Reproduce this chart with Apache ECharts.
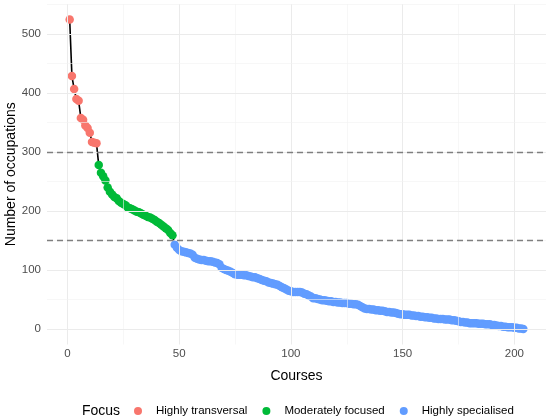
<!DOCTYPE html>
<html>
 <head>
  <title>Occupations per course</title>
  <script src="https://cdn.jsdelivr.net/npm/echarts@6/dist/echarts.min.js"></script>
  <style>
    html, body, #container {
    width: 100%;
    height: 100%;
    margin: 0;
    padding: 0;
    background: #fff;
    }
  </style>
 </head>
  <body>
    <div id="container"></div>
    <script>
// number of occupations per course, sorted, split by focus group
var highlyTransversal = [525, 429, 407, 390, 387, 358, 355, 345, 341, 333, 317, 316, 315];
var moderatelyFocused = [278, 265, 259, 252, 240, 233, 228, 224, 222, 217, 214, 212, 210, 206, 205, 203, 201,
  199, 198, 196, 194, 192, 190, 189, 187, 185, 182, 180, 177, 174, 171, 168, 163, 159];
var highlySpecialised = [143, 138, 134, 132, 131, 130, 129, 128, 126, 121, 119, 118, 117, 117, 116, 115, 115,
  114, 113, 112, 110, 104, 102, 100, 99, 97, 95, 93, 92, 92, 92, 91, 91, 90, 89, 88, 88, 86, 85, 83, 82, 81,
  79, 78, 77, 76, 75, 73, 71, 69, 67, 65, 64, 63, 63, 63, 63, 62, 60, 59, 57, 55, 52, 52, 51, 50, 49, 49, 48,
  47, 47, 46, 46, 45, 45, 44, 44, 44, 43, 43, 42, 42, 41, 39, 37, 35, 34, 34, 33, 33, 32, 32, 31, 31, 30, 29,
  29, 28, 28, 27, 26, 25, 25, 24, 24, 24, 23, 23, 22, 22, 21, 21, 20, 20, 19, 19, 18, 18, 17, 17, 17, 16, 16,
  16, 15, 15, 14, 13, 12, 12, 11, 11, 10, 10, 10, 10, 9, 9, 9, 8, 8, 8, 7, 7, 6, 5, 5, 4, 4, 3, 3, 3, 2, 2,
  1, 1, 0];
var groupNames = ['Highly transversal', 'Moderately focused', 'Highly specialised'];
var groupColors = ['#F8766D', '#00BA38', '#619CFF'];
var thresholds = [150, 300];
var xMajor = [0, 50, 100, 150, 200];
var xMinor = [25, 75, 125, 175];
var yMajor = [0, 100, 200, 300, 400, 500];
var yMinor = [50, 150, 250, 350, 450, 550];

// rank the courses 1..n across the three groups
var groups = [highlyTransversal, moderatelyFocused, highlySpecialised];
var allPoints = [];
var groupPoints = [];
var rank = 1;
groups.forEach(function (g) {
  var pts = [];
  g.forEach(function (v) {
    pts.push([rank, v]);
    allPoints.push([rank, v]);
    rank++;
  });
  groupPoints.push(pts);
});
var n = allPoints.length;
var xMin = 1 - 0.05 * (n - 1), xMax = n + 0.05 * (n - 1);
var yMin = -0.05 * 525, yMax = 525 * 1.05;

var gridLines = [];
xMajor.forEach(function (v) { gridLines.push({ xAxis: v, lineStyle: { color: '#EBEBEB', width: 1, type: 'solid' } }); });
xMinor.forEach(function (v) { gridLines.push({ xAxis: v, lineStyle: { color: '#F2F2F2', width: 0.6, type: 'solid' } }); });
yMajor.forEach(function (v) { gridLines.push({ yAxis: v, lineStyle: { color: '#EBEBEB', width: 1, type: 'solid' } }); });
yMinor.forEach(function (v) { gridLines.push({ yAxis: v, lineStyle: { color: '#F2F2F2', width: 0.6, type: 'solid' } }); });
thresholds.forEach(function (v) { gridLines.push({ yAxis: v, lineStyle: { color: '#7F7F7F', width: 1.3, type: [6, 4] } }); });

var chartDom = document.getElementById('container');
var myChart = echarts.init(chartDom);
var font = 'Liberation Sans, Arial, sans-serif';

var series = [
  {
    name: 'grid',
    type: 'line',
    data: [],
    z: 1,
    markLine: { silent: true, symbol: 'none', label: { show: false }, animation: false, data: gridLines }
  },
  {
    name: 'path',
    type: 'line',
    data: allPoints,
    showSymbol: false,
    z: 2,
    lineStyle: { color: '#000', width: 1.6 },
    itemStyle: { color: '#000' }
  }
];
groupNames.forEach(function (name, i) {
  series.push({
    name: name,
    type: 'scatter',
    data: groupPoints[i],
    symbolSize: 8.5,
    z: 3,
    itemStyle: { color: groupColors[i], opacity: 1 }
  });
});

var option = {
  animation: false,
  textStyle: { fontFamily: font },
  title: {
    text: 'Focus', left: 82, top: 399, padding: 0,
    textStyle: { fontFamily: font, fontSize: 14, fontWeight: 'normal', color: '#000' }
  },
  legend: {
    data: groupNames,
    left: 134, top: 401, padding: 0,
    icon: 'circle', itemWidth: 8, itemHeight: 8, itemGap: 15,
    textStyle: { fontFamily: font, fontSize: 11.5, color: '#000', padding: [0, 0, 0, 9] }
  },
  grid: { left: 47, right: 4, top: 4, bottom: 75.5, containLabel: false, outerBoundsMode: 'none' },
  xAxis: {
    type: 'value', min: xMin, max: xMax,
    name: 'Courses', nameLocation: 'middle', nameGap: 20, nameMoveOverlap: false,
    nameTextStyle: { fontFamily: font, fontSize: 14, color: '#000' },
    axisLine: { show: false }, axisTick: { show: false }, splitLine: { show: false },
    axisLabel: {
      color: '#4D4D4D', fontSize: 11.5, margin: -1, fontFamily: font,
      formatter: function (v) { return xMajor.indexOf(v) >= 0 ? String(v) : ''; }
    }
  },
  yAxis: {
    type: 'value', min: yMin, max: yMax,
    name: 'Number of occupations', nameLocation: 'middle', nameGap: 24, nameMoveOverlap: false,
    nameTextStyle: { fontFamily: font, fontSize: 14, color: '#000' },
    axisLine: { show: false }, axisTick: { show: false }, splitLine: { show: false },
    axisLabel: {
      color: '#4D4D4D', fontSize: 11.5, margin: 6, fontFamily: font,
      formatter: function (v) { return yMajor.indexOf(v) >= 0 ? String(v) : ''; }
    }
  },
  series: series
};

option && myChart.setOption(option);
    </script>
  </body>
</html>
